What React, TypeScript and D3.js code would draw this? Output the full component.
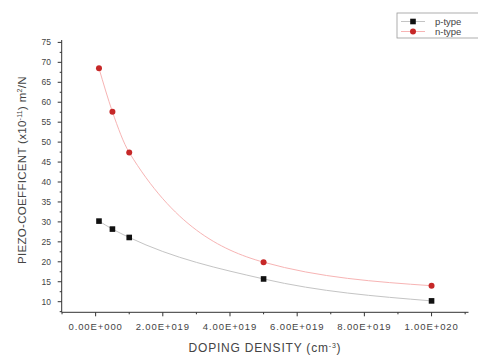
import React from "react";
import * as d3 from "d3";

const dopingDensity = [1e18, 5e18, 1e19, 5e19, 1e20];
const pType = [30.2, 28.2, 26.1, 15.7, 10.2];
const nType = [68.5, 57.6, 47.4, 19.9, 14.0];
const yTicks = [10, 15, 20, 25, 30, 35, 40, 45, 50, 55, 60, 65, 70, 75];
const xTicks = [0, 2e19, 4e19, 6e19, 8e19, 1e20];
const xTickLabels = ["0.00E+000", "2.00E+019", "4.00E+019", "6.00E+019", "8.00E+019", "1.00E+020"];
const xMinor = [-1e19, 1e19, 3e19, 5e19, 7e19, 9e19, 1.1e20];
const seriesNames = ["p-type", "n-type"];

const W = 478;
const H = 358;

export default function App() {
  const x = d3.scaleLinear().domain([-1.01e19, 1.11e20]).range([61.7, 468.5]);
  const y = d3.scaleLinear().domain([7.34, 75.6]).range([312.3, 40]);
  const line = d3
    .line<[number, number]>()
    .x((d) => x(d[0]))
    .y((d) => y(d[1]))
    .curve(d3.curveMonotoneX);
  const pData = dopingDensity.map((d, i) => [d, pType[i]] as [number, number]);
  const nData = dopingDensity.map((d, i) => [d, nType[i]] as [number, number]);
  const yMinor = d3.range(7.5, 75.6, 2.5).filter((v) => v % 5 !== 0);
  const font = "'Liberation Sans', Arial, sans-serif";
  const axisColor = "#333";
  const textColor = "#444";

  return (
    <div style={{ position: "absolute", left: 0, top: 0 }}>
      <svg width={W} height={H} style={{ display: "block", background: "#fff" }}>
        {/* curves */}
        <path d={line(pData) || ""} fill="none" stroke="#c4c4c4" strokeWidth={1} />
        <path d={line(nData) || ""} fill="none" stroke="#f7b4b4" strokeWidth={1} />

        {/* axes */}
        <line x1={x.range()[0]} x2={x.range()[0]} y1={y.range()[1]} y2={y.range()[0]} stroke={axisColor} strokeWidth={1} />
        <line x1={x.range()[0]} x2={x.range()[1]} y1={y.range()[0]} y2={y.range()[0]} stroke={axisColor} strokeWidth={1} />

        {yTicks.map((t) => (
          <g key={"yt" + t}>
            <line x1={x.range()[0] - 4} x2={x.range()[0]} y1={y(t)} y2={y(t)} stroke={axisColor} strokeWidth={1} />
            <text x={51} y={y(t)} dy="0.35em" textAnchor="end" fontFamily={font} fontSize={8.5} fill={textColor}>
              {t}
            </text>
          </g>
        ))}
        {yMinor.map((t) => (
          <line key={"ym" + t} x1={x.range()[0] - 2} x2={x.range()[0]} y1={y(t)} y2={y(t)} stroke={axisColor} strokeWidth={1} />
        ))}

        {xTicks.map((t, i) => (
          <g key={"xt" + t}>
            <line x1={x(t)} x2={x(t)} y1={y.range()[0]} y2={y.range()[0] + 4} stroke={axisColor} strokeWidth={1} />
            <text x={x(t)} y={330} textAnchor="middle" fontFamily={font} fontSize={9.5} letterSpacing={0.9} fill={textColor}>
              {xTickLabels[i]}
            </text>
          </g>
        ))}
        {xMinor.map((t) => (
          <line key={"xm" + t} x1={x(t)} x2={x(t)} y1={y.range()[0]} y2={y.range()[0] + 2} stroke={axisColor} strokeWidth={1} />
        ))}

        {/* axis titles */}
        <text x={265} y={352} textAnchor="middle" fontFamily={font} fontSize={12} letterSpacing={0.8} fill={textColor}>
          DOPING DENSITY (cm
          <tspan dy={-4} fontSize={7}>-3</tspan>
          <tspan dy={4}>)</tspan>
        </text>
        <text
          transform="translate(26,170) rotate(-90)"
          textAnchor="middle"
          fontFamily={font}
          fontSize={11.5}
          letterSpacing={0.3}
          fill={textColor}
        >
          PIEZO-COEFFICENT (x10
          <tspan dy={-4} fontSize={7}>-11</tspan>
          <tspan dy={4}>) m</tspan>
          <tspan dy={-4} fontSize={7}>2</tspan>
          <tspan dy={4}>/N</tspan>
        </text>

        {/* markers */}
        {pData.map((d, i) => (
          <rect key={"p" + i} x={x(d[0]) - 2.8} y={y(d[1]) - 2.8} width={5.6} height={5.6} fill="#111" />
        ))}
        {nData.map((d, i) => (
          <circle key={"n" + i} cx={x(d[0])} cy={y(d[1])} r={3} fill="#c62828" />
        ))}

        {/* legend */}
        <g>
          <rect x={397} y={13} width={90} height={25} fill="#fff" stroke="#999" strokeWidth={0.8} />
          <line x1={401} x2={425} y1={21.5} y2={21.5} stroke="#c4c4c4" />
          <rect x={410.2} y={18.7} width={5.6} height={5.6} fill="#111" />
          <text x={435} y={21.5} dy="0.35em" fontFamily={font} fontSize={9.5} fill={textColor}>
            {seriesNames[0]}
          </text>
          <line x1={401} x2={425} y1={31.5} y2={31.5} stroke="#f7b4b4" />
          <circle cx={413} cy={31.5} r={3} fill="#c62828" />
          <text x={435} y={31.5} dy="0.35em" fontFamily={font} fontSize={9.5} fill={textColor}>
            {seriesNames[1]}
          </text>
        </g>
      </svg>
    </div>
  );
}
